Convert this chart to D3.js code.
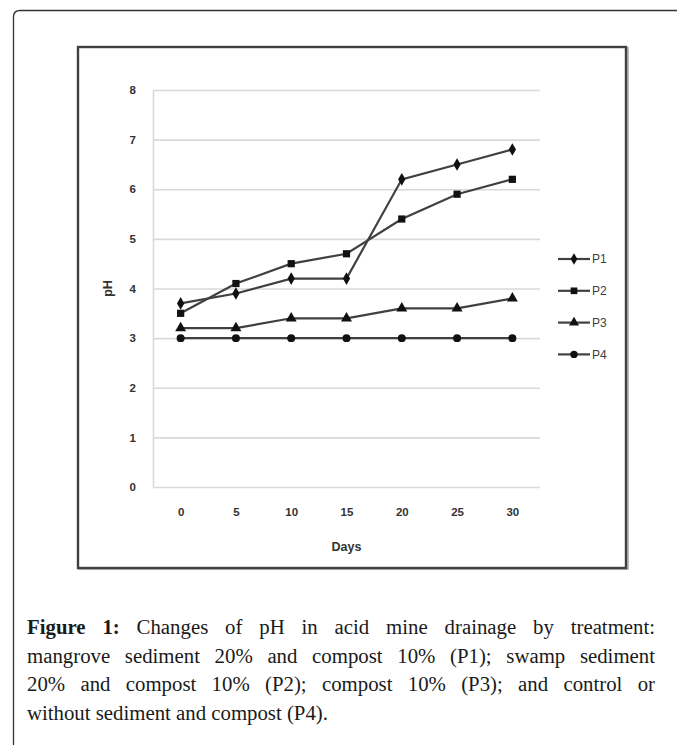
<!DOCTYPE html>
<html>
<head>
<meta charset="utf-8">
<script src="https://cdn.jsdelivr.net/npm/d3@7"></script>
<style>
  html, body { margin: 0; padding: 0; background: #fff; }
  body { width: 677px; height: 745px; overflow: hidden; position: relative; }
  #caption {
    position: absolute; left: 27px; top: 613px; width: 628px;
    font-family: "Liberation Serif", "Times New Roman", serif;
    font-size: 20.8px; line-height: 28.5px; color: #1a1a1a;
  }
  #caption .ln { text-align: justify; text-align-last: justify; white-space: nowrap; }
  #caption .ln.last { text-align-last: left; }
  #caption b { font-weight: bold; }
</style>
</head>
<body>
<svg id="chart" width="677" height="745" style="position:absolute;left:0;top:0"></svg>
<div id="caption"></div>
<script>
// ---- data ----
const days = ["0", "5", "10", "15", "20", "25", "30"];
const seriesNames = ["P1", "P2", "P3", "P4"];
const p1 = [3.7, 3.9, 4.2, 4.2, 6.2, 6.5, 6.8];
const p2 = [3.5, 4.1, 4.5, 4.7, 5.4, 5.9, 6.2];
const p3 = [3.2, 3.2, 3.4, 3.4, 3.6, 3.6, 3.8];
const p4 = [3.0, 3.0, 3.0, 3.0, 3.0, 3.0, 3.0];
const yTicks = [0, 1, 2, 3, 4, 5, 6, 7, 8];
const xTitle = "Days";
const yTitle = "pH";
const captionBold = "Figure 1:";
const captionLines = [
  "Changes of pH in acid mine drainage by treatment:",
  "mangrove sediment 20% and compost 10% (P1); swamp sediment",
  "20% and compost 10% (P2); compost 10% (P3); and control or",
  "without sediment and compost (P4)."
];

const series = [
  { name: seriesNames[0], values: p1, symbol: d3.symbolDiamond, size: 46 },
  { name: seriesNames[1], values: p2, symbol: d3.symbolSquare, size: 52 },
  { name: seriesNames[2], values: p3, symbol: d3.symbolTriangle, size: 52 },
  { name: seriesNames[3], values: p4, symbol: d3.symbolCircle, size: 50 }
];

const svg = d3.select("#chart");

// outer rounded box (top-left corner)
svg.append("path")
  .attr("d", "M13.5,745 L13.5,17 Q13.5,10.5 20,10.5 L677,10.5")
  .attr("fill", "none").attr("stroke", "#333").attr("stroke-width", 1.3);

// chart frame with slight shadow
svg.append("rect").attr("x", 79).attr("y", 48).attr("width", 549).attr("height", 521)
  .attr("fill", "none").attr("stroke", "#bbb").attr("stroke-width", 2);
svg.append("rect").attr("x", 78).attr("y", 47).attr("width", 548).attr("height", 521)
  .attr("fill", "#fff").attr("stroke", "#404040").attr("stroke-width", 2.4);

// scales
const x = d3.scalePoint().domain(days).range([153, 540]).padding(0.5);
const y = d3.scaleLinear().domain([0, 8]).range([487, 90]);

// y axis with gridlines
const yAxis = svg.append("g").attr("transform", "translate(153,0)")
  .call(d3.axisLeft(y).tickValues(yTicks).tickSizeInner(-(540 - 153)).tickSizeOuter(0).tickPadding(17));
yAxis.select(".domain").attr("stroke", "#d9d9d9").attr("stroke-width", 1.6);
yAxis.selectAll(".tick line").attr("stroke", "#d9d9d9").attr("stroke-width", 1.6);
yAxis.selectAll(".tick text")
  .attr("font-family", "'Liberation Sans', Arial, sans-serif")
  .attr("font-weight", "bold").attr("font-size", 11.5).attr("fill", "#333");

// x axis labels
const xAxis = svg.append("g").attr("transform", "translate(0,487)")
  .call(d3.axisBottom(x).tickSize(0).tickPadding(21));
xAxis.select(".domain").remove();
xAxis.selectAll(".tick text")
  .attr("font-family", "'Liberation Sans', Arial, sans-serif")
  .attr("font-weight", "bold").attr("font-size", 11.5).attr("fill", "#333");

// axis titles
svg.append("text").attr("x", (153 + 540) / 2).attr("y", 551).attr("text-anchor", "middle")
  .attr("font-family", "'Liberation Sans', Arial, sans-serif").attr("font-weight", "bold")
  .attr("font-size", 12.5).attr("fill", "#333").text(xTitle);
svg.append("text").attr("transform", "translate(112," + ((487 + 90) / 2) + ") rotate(-90)")
  .attr("text-anchor", "middle")
  .attr("font-family", "'Liberation Sans', Arial, sans-serif").attr("font-weight", "bold")
  .attr("font-size", 12.5).attr("fill", "#333").text(yTitle);

// lines and markers
const line = d3.line().x((d, i) => x(days[i])).y(d => y(d));
series.forEach(s => {
  svg.append("path").datum(s.values).attr("d", line)
    .attr("fill", "none").attr("stroke", "#404040").attr("stroke-width", 2.2);
});
series.forEach(s => {
  svg.append("g").selectAll("path").data(s.values).join("path")
    .attr("transform", (d, i) => "translate(" + x(days[i]) + "," + y(d) + ")")
    .attr("d", d3.symbol().type(s.symbol).size(s.size)())
    .attr("fill", "#111");
});

// legend
const legend = svg.append("g");
series.forEach((s, i) => {
  const ly = 259 + i * 31.8;
  legend.append("line").attr("x1", 558).attr("x2", 590).attr("y1", ly).attr("y2", ly)
    .attr("stroke", "#404040").attr("stroke-width", 2.2);
  legend.append("path").attr("transform", "translate(574," + ly + ")")
    .attr("d", d3.symbol().type(s.symbol).size(s.size * 0.85)()).attr("fill", "#111");
  legend.append("text").attr("x", 592).attr("y", ly).attr("dy", "0.35em")
    .attr("font-family", "'Liberation Sans', Arial, sans-serif")
    .attr("font-size", 12).attr("fill", "#404040").text(s.name);
});

// caption
const cap = d3.select("#caption");
captionLines.forEach((t, i) => {
  const div = cap.append("div").attr("class", "ln" + (i === captionLines.length - 1 ? " last" : ""));
  if (i === 0) { div.append("b").text(captionBold); div.append("span").text(" " + t); }
  else div.text(t);
});
</script>
</body>
</html>
